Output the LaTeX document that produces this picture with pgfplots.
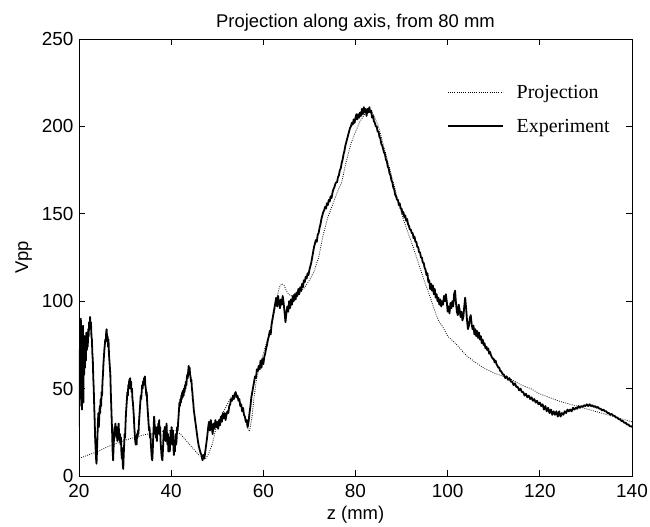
\documentclass[border=0pt]{standalone}
\usepackage{fontspec}
\setmainfont{Liberation Sans}
\newfontfamily\legfont{Liberation Serif}
\usepackage{pgfplots}
\pgfplotsset{compat=1.18}
\begin{document}
\begin{tikzpicture}
\path[use as bounding box] (-79bp,-51bp) rectangle (571bp,476bp);
\begin{axis}[
  scale only axis, width=553bp, height=437bp,
  xmin=20, xmax=140, ymin=0, ymax=250,
  xtick={20,40,...,140}, ytick={0,50,...,250},
  tick align=inside, major tick length=6bp,
  axis line style={line width=0.8bp},
  tick style={line width=0.8bp, black},
  ticklabel style={font=\fontsize{19}{21}\selectfont},
  xticklabel style={yshift=-5bp},
  yticklabel style={xshift=-2bp},
  /pgf/number format/assume math mode=true,
  title={Projection along axis, from 80 mm},
  title style={font=\fontsize{18.5}{20}\selectfont, at={(0.5,1.0137)}, anchor=base},
  xlabel={z (mm)}, ylabel={Vpp},
  label style={font=\fontsize{18.5}{20}\selectfont},
  xlabel style={at={(0.5,-0.1)}, anchor=base},
  ylabel style={at={(-0.1,0.5)}, anchor=center},
  legend cell align=left,
  legend style={draw=none, fill=none, inner sep=0pt, at={(0.665,0.8387)}, anchor=west,
    font=\legfont\fontsize{20}{24}\selectfont, row sep=15bp,
    /tikz/every odd column/.style={column sep=11bp}},
  legend image code/.code={\draw[#1] (0bp,0bp) -- (55bp,0bp);},
]
% projection (dotted)
\addplot[black, line width=0.8bp, dash pattern=on 0.8bp off 1.4bp] coordinates {
(20,10) (22,12) (24,14) (26,16.5) (28,18.5) (30,20.5) (32,22) (34,23.5) (36,24.5) (38,25.5)
(40,26) (41,26) (42,24) (43,21) (44,18) (45,15) (46,12) (47,10) (47.5,10) (48,12) (48.5,15)
(49,19) (49.5,25) (50,30) (51,35) (52,40) (53,45) (54,46.5) (54.5,45) (55,42) (55.5,38) (56,33)
(56.5,28) (57,25.5) (57.5,33) (58,45) (58.5,55) (59,61) (60,70) (61,79) (62,88) (63,103)
(63.5,108) (64,110) (64.5,109) (65,106) (65.5,104) (66,103) (67,104) (68,105) (69,108) (70,112)
(71,117) (72,125) (73,138) (74,148) (75,155) (76,162) (77,168) (78,180) (79,190) (80,197)
(81,203) (82,207) (83,209) (83.5,209) (84,206) (85,200) (86,190) (87,180) (88,170) (89,160)
(90,150) (91,142) (92,135) (93,127) (94,119) (95,111) (96,104) (97,96) (98,89) (99,85) (100,80)
(102,75) (104,69) (106,65) (108,61.5) (110,59) (112,57) (114,55) (116,52) (118,50) (120,47)
(122,45) (124,43) (126,41.5) (128,40) (130,38.5) (132,37) (134,35.5) (136,34) (138,32.5) (140,31)
};
\addlegendentry{Projection}
% experiment (solid)
\addplot[black, line width=1.8bp, line join=round] coordinates {
(20.0,28) (20.08,72) (20.16,40) (20.24,88) (20.32,52) (20.4,90) (20.48,45) (20.56,82) (20.64,38)
(20.72,78) (20.8,50) (20.88,86) (20.96,42) (21.04,74) (21.12,58) (21.2,80) (21.3,62) (21.4,78)
(21.5,66) (21.6,82) (21.7,72) (21.8,80) (21.9,74) (22.0,84) (22.1,80) (22.2,88) (22.3,84) (22.4,91)
(22.5,86) (22.6,88) (22.7,80) (22.8,78) (22.9,70) (23.0,66) (23.1,56) (23.2,50) (23.3,40) (23.4,32)
(23.5,22) (23.6,16) (23.7,10) (23.8,7) (23.9,14) (24.0,22) (24.1,30) (24.2,36) (24.3,28) (24.4,34)
(24.5,40) (24.6,36) (24.7,44) (24.8,40) (24.9,48) (25.0,46) (25.1,54) (25.2,58) (25.3,64) (25.4,68)
(25.5,72) (25.6,75) (25.7,78) (25.8,77) (25.9,82) (26.0,84) (26.1,78) (26.2,80) (26.3,74) (26.4,78)
(26.5,70) (26.6,66) (26.7,62) (26.8,58) (26.9,48) (27.0,40) (27.1,32) (27.2,24) (27.3,14) (27.4,9)
(27.5,16) (27.6,22) (27.7,28) (27.8,24) (27.9,30) (28.0,26) (28.1,22) (28.2,28) (28.3,20) (28.4,24)
(28.5,26) (28.6,30) (28.7,24) (28.8,20) (28.9,24) (29.0,18) (29.1,22) (29.2,14) (29.3,10) (29.4,16)
(29.5,6) (29.6,4) (29.7,12) (29.8,18) (29.9,24) (30.0,22) (30.1,30) (30.2,36) (30.3,40) (30.4,44)
(30.5,48) (30.6,46) (30.7,52) (30.8,50) (30.9,55) (31.0,53) (31.1,56) (31.2,50) (31.3,54) (31.4,48)
(31.5,50) (31.6,44) (31.7,42) (31.8,38) (31.9,34) (32.0,28) (32.1,24) (32.2,20) (32.3,18) (32.4,22)
(32.5,18) (32.6,24) (32.7,22) (32.8,26) (32.9,24) (33.0,30) (33.1,34) (33.2,38) (33.3,42) (33.4,46)
(33.5,44) (33.6,48) (33.7,52) (33.8,50) (33.9,54) (34.0,52) (34.1,56) (34.2,54) (34.3,57) (34.4,52)
(34.5,50) (34.6,46) (34.7,48) (34.8,42) (34.9,38) (35.0,34) (35.1,30) (35.2,26) (35.3,28) (35.4,22)
(35.5,24) (35.6,18) (35.7,14) (35.8,10) (35.9,9) (36.0,14) (36.1,22) (36.2,28) (36.3,34) (36.4,30)
(36.5,24) (36.6,28) (36.7,22) (36.8,26) (36.9,20) (37.0,28) (37.1,24) (37.2,30) (37.3,26) (37.4,32)
(37.5,24) (37.6,28) (37.7,20) (37.8,16) (37.9,12) (38.0,10) (38.1,9) (38.2,14) (38.3,20) (38.4,26)
(38.5,22) (38.6,28) (38.7,24) (38.8,20) (38.9,26) (39.0,30) (39.1,22) (39.2,18) (39.3,24) (39.4,14)
(39.5,18) (39.6,22) (39.7,14) (39.8,20) (39.9,26) (40.0,22) (40.1,28) (40.2,18) (40.3,22) (40.4,26)
(40.5,16) (40.6,12) (40.7,18) (40.8,14) (40.9,20) (41.0,24) (41.1,18) (41.2,22) (41.3,28) (41.4,26)
(41.5,30) (41.6,34) (41.7,38) (41.8,42) (41.9,40) (42.0,44) (42.1,42) (42.2,46) (42.3,44) (42.4,48)
(42.5,45) (42.6,49) (42.7,46) (42.8,50) (42.9,48) (43.0,52) (43.1,50) (43.2,54) (43.3,52) (43.4,56)
(43.5,58) (43.6,56) (43.7,60) (43.8,63) (43.9,61) (44.0,62) (44.1,58) (44.2,57) (44.3,54) (44.4,55)
(44.5,50) (44.6,48) (44.7,44) (44.8,42) (44.9,38) (45.0,36) (45.2,32) (45.4,28) (45.6,24) (45.8,20)
(46.0,17) (46.2,15) (46.4,13) (46.6,12) (46.8,9) (47.0,12) (47.2,10) (47.4,14) (47.6,18) (47.8,22)
(48.0,27) (48.2,31) (48.4,26) (48.6,32) (48.8,28) (49.0,24) (49.2,30) (49.4,27) (49.6,32) (49.8,28)
(50.0,31) (50.2,27) (50.4,32) (50.6,29) (50.8,34) (51.0,31) (51.2,36) (51.4,33) (51.6,36) (51.8,32)
(52.0,35) (52.2,37) (52.4,36) (52.6,40) (52.8,41) (53.0,44) (53.2,43) (53.4,46) (53.6,44) (53.8,47)
(54.0,48) (54.2,45) (54.4,46) (54.6,43) (54.8,44) (55.0,40) (55.2,41) (55.4,37) (55.6,39) (55.8,35)
(56.0,34) (56.2,31) (56.4,32) (56.6,28) (56.8,31) (57.0,36) (57.2,40) (57.4,45) (57.6,48) (57.8,51)
(58.0,54) (58.2,57) (58.4,56) (58.6,61) (58.8,60) (59.0,63) (59.2,61) (59.4,66) (59.6,62) (59.8,67)
(60.0,64) (60.2,68) (60.4,70) (60.6,73) (60.8,75) (61.0,78) (61.2,80) (61.4,83) (61.6,81) (61.8,87)
(62.0,90) (62.2,93) (62.4,96) (62.6,99) (62.8,102) (63.0,97) (63.2,103) (63.4,99) (63.6,96) (63.8,101)
(64.0,98) (64.2,103) (64.4,99) (64.6,94) (64.8,88) (65.0,93) (65.2,97) (65.4,94) (65.6,100) (65.8,96)
(66.0,101) (66.2,98) (66.4,103) (66.6,100) (66.8,104) (67.0,101) (67.2,105) (67.4,103) (67.6,107)
(67.8,104) (68.0,108) (68.2,106) (68.4,110) (68.6,108) (68.8,112) (69.0,111) (69.2,114) (69.4,113)
(69.6,116) (69.8,115) (70.0,118) (70.2,120) (70.4,122) (70.6,125) (70.8,128) (71.0,131) (71.2,133)
(71.4,135) (71.6,134) (71.8,138) (72.0,139) (72.2,142) (72.4,144) (72.6,147) (72.8,149) (73.0,151)
(73.2,152) (73.4,154) (73.6,153) (73.8,156) (74.0,155) (74.2,158) (74.4,157) (74.6,160) (74.8,159)
(75.0,162) (75.2,164) (75.4,165) (75.6,167) (75.8,168) (76.0,168) (76.2,171) (76.4,172) (76.6,175)
(76.8,176) (77.0,179) (77.2,181) (77.4,184) (77.6,186) (77.8,189) (78.0,191) (78.2,193) (78.4,195)
(78.6,197) (78.8,199) (79.0,200) (79.2,202) (79.4,201) (79.6,204) (79.8,202) (80.0,205) (80.2,207)
(80.4,204) (80.6,207) (80.8,205) (81.0,208) (81.2,206) (81.4,210) (81.6,207) (81.8,211) (82.0,208)
(82.2,210) (82.4,206) (82.6,210) (82.8,208) (83.0,211) (83.2,208) (83.4,209) (83.6,205) (83.8,206)
(84.0,203) (84.2,202) (84.4,200) (84.6,200) (84.8,197) (85.0,197) (85.2,194) (85.4,193) (85.6,190)
(85.8,189) (86.0,187) (86.2,185) (86.4,184) (86.6,181) (86.8,180) (87.0,177) (87.2,176) (87.4,173)
(87.6,172) (87.8,169) (88.0,168) (88.2,165) (88.4,164) (88.6,161) (88.8,160) (89.0,158) (89.2,158)
(89.4,155) (89.6,156) (89.8,153) (90.0,153) (90.2,150) (90.4,151) (90.6,148) (90.8,149) (91.0,146)
(91.2,147) (91.4,144) (91.6,143) (91.8,141) (92.0,141) (92.2,139) (92.4,139) (92.6,136) (92.8,137)
(93.0,134) (93.2,134) (93.4,131) (93.6,131) (93.8,128) (94.0,128) (94.2,125) (94.4,125) (94.6,122)
(94.8,122) (95.0,119) (95.2,118) (95.4,115) (95.6,116) (95.8,111) (96.0,112) (96.2,107) (96.4,110)
(96.6,106) (96.8,109) (97.0,104) (97.2,107) (97.4,102) (97.6,104) (97.8,100) (98.0,102) (98.2,98)
(98.4,101) (98.6,97) (98.8,100) (99.0,98) (99.2,103) (99.4,100) (99.6,104) (99.8,100) (100.0,94)
(100.2,97) (100.4,93) (100.6,99) (100.8,96) (101.0,100) (101.2,97) (101.4,104) (101.6,106) (101.8,99)
(102.0,94) (102.2,92) (102.4,98) (102.6,95) (102.8,91) (103.0,94) (103.2,89) (103.4,91) (103.6,97)
(103.8,102) (104.0,96) (104.2,89) (104.4,84) (104.6,86) (104.8,90) (105.0,92) (105.2,87) (105.4,84)
(105.6,86) (105.8,81) (106.0,84) (106.2,80) (106.4,83) (106.6,79) (106.8,82) (107.0,78) (107.2,80)
(107.4,76) (107.6,78) (107.8,75) (108.0,76) (108.2,73) (108.4,74) (108.6,72) (108.8,73) (109.0,70)
(109.2,71) (109.4,69) (109.6,68) (109.8,67) (110.0,67) (110.2,65) (110.4,66) (110.6,64) (110.8,63)
(111.0,62) (111.2,62) (111.4,60) (111.6,60) (111.8,59) (112.0,58) (112.2,58) (112.5,56) (112.8,57)
(113.1,55) (113.4,56) (113.7,54) (114.0,54) (114.3,52) (114.6,53) (114.9,51) (115.2,51) (115.5,49)
(115.8,50) (116.1,48) (116.4,48) (116.7,46) (117.0,47) (117.3,45) (117.6,46) (117.9,44) (118.2,45)
(118.5,43) (118.8,44) (119.1,42) (119.4,43) (119.7,41) (120.0,42) (120.3,40) (120.6,41) (120.9,38)
(121.2,40) (121.5,37) (121.8,39) (122.1,36) (122.4,38) (122.7,35) (123.0,37) (123.3,35) (123.6,37)
(123.9,34) (124.2,37) (124.5,34) (124.8,36) (125.1,35) (125.4,37) (125.7,36) (126.0,38) (126.3,37)
(126.6,38) (126.9,37) (127.2,39) (127.5,38) (127.8,39) (128.1,38.5) (128.4,40) (128.7,39) (129.0,40)
(129.3,39.5) (129.6,40.5) (129.9,40) (130.2,41) (130.5,40) (130.8,41) (131.1,40) (131.4,40.5)
(131.7,39.5) (132.0,40) (132.3,39) (132.6,39.5) (132.9,38.5) (133.2,38.5) (133.5,37.5) (133.8,38)
(134.1,37) (134.4,37) (134.7,36) (135.0,36) (135.3,35) (135.6,35.5) (135.9,34.5) (136.2,34.5)
(136.5,33.5) (136.8,33.5) (137.1,32.5) (137.4,32.5) (137.7,31.5) (138.0,31.5) (138.3,30.5)
(138.6,30.5) (138.9,29.5) (139.2,29.5) (139.5,28.5) (139.8,28.5) (140.0,28)
};
\addlegendentry{Experiment}
\end{axis}
\end{tikzpicture}
\end{document}
